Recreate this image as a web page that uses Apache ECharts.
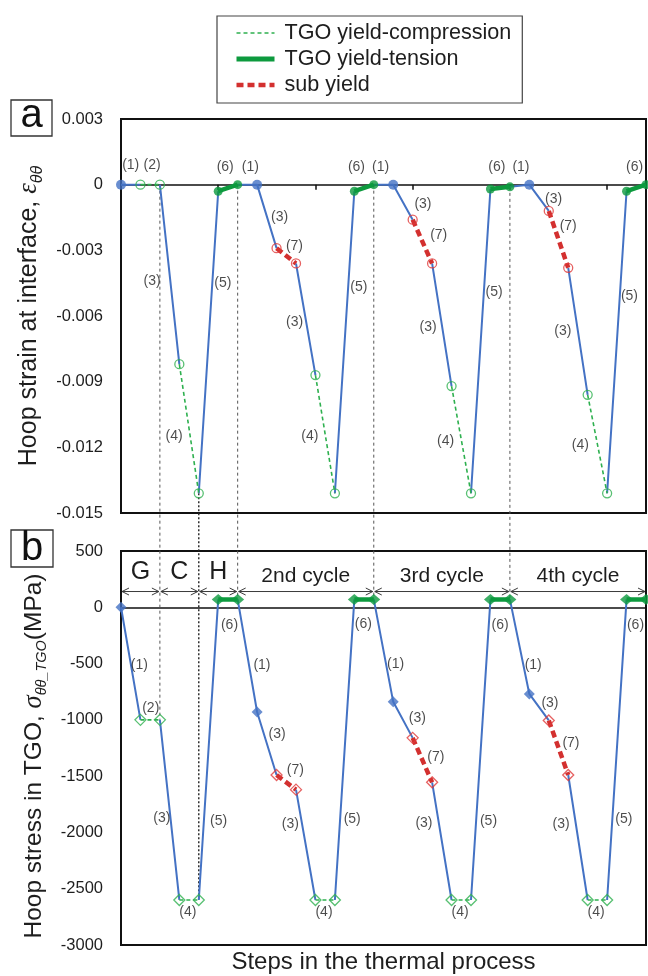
<!DOCTYPE html>
<html>
<head>
<meta charset="utf-8">
<script src="https://cdn.jsdelivr.net/npm/echarts@6/dist/echarts.min.js"></script>
<style>
  html, body { margin: 0; padding: 0; background: #fff; }
  #chart { width: 648px; height: 976px; }
</style>
</head>
<body>
<div id="chart"></div>
<script>
// Step number along the thermal process (G, C, H, then three further cycles)
const steps = [0, 1, 2, 3, 4, 5, 6, 7, 8, 9, 10, 11, 12, 13, 14, 15, 16, 17, 18, 19, 20, 21, 22, 23, 24, 25, 26, 27];

// Hoop strain at the TGO interface for each step
const strain = [0, 0, 0, -0.0082, -0.0141, -0.0003, 0,
                0, -0.0029, -0.0036, -0.0087, -0.0141, -0.0003, 0,
                0, -0.0016, -0.0036, -0.0092, -0.0141, -0.0002, -0.0001,
                0, -0.0012, -0.0038, -0.0096, -0.0141, -0.0003, 0];

// Hoop stress in the TGO (MPa) for each step
const stress = [0, -1000, -1000, -2600, -2600, 70, 70,
                -930, -1490, -1620, -2600, -2600, 70, 70,
                -840, -1160, -1555, -2600, -2600, 70, 70,
                -770, -1005, -1490, -2600, -2600, 70, 70];

// State reached at each step
const pointState = ['start', 'comp', 'comp', 'comp', 'comp', 'tens', 'tens',
                    'start', 'sub', 'sub', 'comp', 'comp', 'tens', 'tens',
                    'start', 'sub', 'sub', 'comp', 'comp', 'tens', 'tens',
                    'start', 'sub', 'sub', 'comp', 'comp', 'tens', 'tens'];

// State of the path from step i to step i+1
const segmentState = ['elastic', 'comp', 'elastic', 'comp', 'elastic', 'tens', 'elastic',
                      'elastic', 'sub', 'elastic', 'comp', 'elastic', 'tens', 'elastic',
                      'elastic', 'sub', 'elastic', 'comp', 'elastic', 'tens', 'elastic',
                      'elastic', 'sub', 'elastic', 'comp', 'elastic', 'tens'];

// Process stages shown above the stress panel
const phaseNames = ['G', 'C', 'H', '2nd cycle', '3rd cycle', '4th cycle'];
const phaseStart = [0, 2, 4, 6, 13, 20];
const phaseEnd = [2, 4, 6, 13, 20, 27];

// Steps joined by a vertical guide across both panels
const guideSteps = [2, 4, 6, 13, 20];

// Sub-step numbers written next to the strain path: [text, step, strain]
const notesA = [
  ['(1)', 0.5, 0.0009], ['(2)', 1.6, 0.0009], ['(3)', 1.6, -0.0044], ['(4)', 2.73, -0.0115],
  ['(5)', 5.24, -0.0045], ['(6)', 5.36, 0.00078], ['(1)', 6.65, 0.00078],
  ['(3)', 8.16, -0.0015], ['(7)', 8.92, -0.0028], ['(3)', 8.93, -0.0063], ['(4)', 9.71, -0.0115],
  ['(5)', 12.23, -0.0047], ['(6)', 12.11, 0.00078], ['(1)', 13.35, 0.00078],
  ['(3)', 15.53, -0.0009], ['(7)', 16.34, -0.0023], ['(3)', 15.79, -0.0065], ['(4)', 16.69, -0.0117],
  ['(5)', 19.19, -0.0049], ['(6)', 19.33, 0.00078], ['(1)', 20.57, 0.00078],
  ['(3)', 22.25, -0.00065], ['(7)', 23.0, -0.0019], ['(3)', 22.72, -0.0067], ['(4)', 23.62, -0.0119],
  ['(5)', 26.15, -0.0051], ['(6)', 26.41, 0.00078]
];

// Sub-step numbers written next to the stress path: [text, step, stress]
const notesB = [
  ['(1)', 0.94, -515], ['(2)', 1.53, -900], ['(3)', 2.1, -1871], ['(4)', 3.44, -2711],
  ['(5)', 5.02, -1898], ['(6)', 5.58, -160],
  ['(1)', 7.25, -515], ['(3)', 8.03, -1128], ['(7)', 8.97, -1448], ['(3)', 8.71, -1930],
  ['(4)', 10.44, -2711], ['(5)', 11.89, -1886], ['(6)', 12.46, -151],
  ['(1)', 14.12, -509], ['(3)', 15.24, -988], ['(7)', 16.19, -1329], ['(3)', 15.58, -1921],
  ['(4)', 17.44, -2706], ['(5)', 18.9, -1898], ['(6)', 19.5, -160],
  ['(1)', 21.2, -515], ['(3)', 22.06, -850], ['(7)', 23.14, -1210], ['(3)', 22.63, -1930],
  ['(4)', 24.43, -2711], ['(5)', 25.86, -1886], ['(6)', 26.46, -160]
];

const FONT = '"Liberation Sans", Arial, Helvetica, sans-serif';
const SERIF = '"Liberation Serif", "DejaVu Serif", serif';
const INK = '#1e1e1e';
const BLUE = '#4472c4';
const GREEN_DASH = '#2eb04f';
const GREEN = '#0d9a3e';
const RED = '#d3302f';
const RED_MARK = '#e0393a';

// Polyline through all segments of one state, broken between runs
function pathData(values, state) {
  const out = [];
  let lastEnd = -1;
  for (let i = 0; i < segmentState.length; i++) {
    if (segmentState[i] !== state) continue;
    if (lastEnd === i) {
      out.push([steps[i + 1], values[i + 1]]);
    } else {
      if (out.length) out.push([steps[i], null]);
      out.push([steps[i], values[i]], [steps[i + 1], values[i + 1]]);
    }
    lastEnd = i + 1;
  }
  return out;
}

function pointsOf(values, state) {
  const out = [];
  for (let i = 0; i < steps.length; i++) {
    if (pointState[i] === state) out.push([steps[i], values[i]]);
  }
  return out;
}

const lineDefs = [
  { state: 'elastic', name: 'elastic path', style: { color: BLUE, width: 2, type: 'solid' } },
  { state: 'comp', name: 'TGO yield-compression', style: { color: GREEN_DASH, width: 1.6, type: [4, 3] } },
  { state: 'tens', name: 'TGO yield-tension', style: { color: GREEN, width: 4.5, type: 'solid' } },
  { state: 'sub', name: 'sub yield', style: { color: RED, width: 4.5, type: [7, 4] } }
];

function pathSeries(values, axisIndex) {
  return lineDefs.map(d => ({
    type: 'line',
    name: d.name,
    xAxisIndex: axisIndex,
    yAxisIndex: axisIndex,
    data: pathData(values, d.state),
    symbol: 'none',
    showSymbol: false,
    connectNulls: false,
    lineStyle: d.style,
    itemStyle: { color: d.style.color },
    z: d.state === 'elastic' ? 2 : 3,
    silent: true
  }));
}

function markerSeries(values, axisIndex, shape) {
  const isDiamond = shape === 'diamond';
  const defs = [
    { state: 'start', size: isDiamond ? 11 : 10, item: { color: BLUE } },
    { state: 'comp', size: isDiamond ? 11 : 9, item: { color: 'rgba(255,255,255,0)', borderColor: GREEN_DASH, borderWidth: 1.3 } },
    { state: 'tens', size: isDiamond ? [13, 11] : 9, item: { color: GREEN } },
    { state: 'sub', size: isDiamond ? 11 : 9, item: { color: 'rgba(255,255,255,0)', borderColor: RED_MARK, borderWidth: 1.3 } }
  ];
  return defs.map(d => ({
    type: 'scatter',
    name: 'marker-' + d.state + '-' + axisIndex,
    xAxisIndex: axisIndex,
    yAxisIndex: axisIndex,
    data: pointsOf(values, d.state),
    symbol: shape,
    symbolSize: d.size,
    itemStyle: d.item,
    z: 5,
    silent: true
  }));
}

function noteSeries(notes, axisIndex) {
  return {
    type: 'scatter',
    name: 'notes-' + axisIndex,
    xAxisIndex: axisIndex,
    yAxisIndex: axisIndex,
    symbolSize: 0,
    silent: true,
    z: 6,
    data: notes.map(n => ({ name: n[0], value: [n[1], n[2]] })),
    label: {
      show: true, position: 'inside', formatter: '{b}',
      fontSize: 14, color: INK, fontFamily: FONT
    }
  };
}

// Stage arrows (double-headed) with their names above them
const phaseSeries = {
  type: 'custom',
  name: 'phases',
  xAxisIndex: 1,
  yAxisIndex: 1,
  silent: true,
  z: 4,
  data: phaseStart.map((s, i) => [s, phaseEnd[i], 140, i]),
  encode: { x: [0, 1], y: 2 },
  renderItem: function (params, api) {
    const idx = api.value(3);
    const a = api.coord([api.value(0), api.value(2)]);
    const b = api.coord([api.value(1), api.value(2)]);
    const w = 7, h = 3.5;
    const stroke = { stroke: '#3a3a3a', lineWidth: 1, fill: null };
    const big = idx < 3;
    return {
      type: 'group',
      children: [
        { type: 'line', shape: { x1: a[0] + 1, y1: a[1], x2: b[0] - 1, y2: b[1] }, style: stroke },
        { type: 'polyline', shape: { points: [[a[0] + 1 + w, a[1] - h], [a[0] + 1, a[1]], [a[0] + 1 + w, a[1] + h]] }, style: stroke },
        { type: 'polyline', shape: { points: [[b[0] - 1 - w, b[1] - h], [b[0] - 1, b[1]], [b[0] - 1 - w, b[1] + h]] }, style: stroke },
        {
          type: 'text',
          style: {
            text: phaseNames[idx],
            x: (a[0] + b[0]) / 2,
            y: a[1] - (big ? 7 : 5),
            align: 'center',
            verticalAlign: 'bottom',
            fontSize: big ? 25 : 21,
            fontFamily: FONT,
            fill: INK
          }
        }
      ]
    };
  }
};

function nameRich(size, subSize) {
  return {
    t: { fontSize: size, fontFamily: FONT, color: INK, lineHeight: 32 },
    e: { fontSize: size + 2, fontFamily: SERIF, fontStyle: 'italic', color: INK, lineHeight: 32 },
    s: { fontSize: subSize, fontFamily: FONT, fontStyle: 'italic', color: INK, lineHeight: 12, verticalAlign: 'bottom' }
  };
}

const chart = echarts.init(document.getElementById('chart'), null, { renderer: 'canvas' });

const option = {
  animation: false,
  backgroundColor: '#fff',
  textStyle: { fontFamily: FONT, color: INK },
  legend: {
    data: [
      { name: 'TGO yield-compression', lineStyle: { width: 1.6, type: [4, 3] } },
      { name: 'TGO yield-tension', lineStyle: { width: 5, type: 'solid' } },
      { name: 'sub yield', lineStyle: { width: 4.5, type: [7, 4] } }
    ],
    orient: 'vertical',
    left: 217,
    top: 16,
    padding: [6, 11, 7, 17],
    itemWidth: 38,
    itemHeight: 14,
    itemGap: 4,
    borderColor: '#444',
    borderWidth: 1.2,
    selectedMode: false,
    itemStyle: { opacity: 0 },
    textStyle: { fontSize: 21.6, color: INK, fontFamily: FONT, padding: [0, 0, 0, 5] }
  },
  grid: [
    { left: 121, right: 2, top: 119, height: 394, show: true, borderColor: '#111', borderWidth: 2, backgroundColor: 'rgba(0,0,0,0)' },
    { left: 121, right: 2, top: 551, height: 394, show: true, borderColor: '#111', borderWidth: 2, backgroundColor: 'rgba(0,0,0,0)' }
  ],
  xAxis: [
    {
      gridIndex: 0, type: 'value', min: 0, max: 27, interval: 5,
      axisLine: { onZero: true, lineStyle: { color: '#111', width: 1.5 } },
      axisTick: { show: true, length: 5, lineStyle: { color: '#111', width: 1.5 } },
      axisLabel: { show: false },
      splitLine: { show: false }
    },
    {
      gridIndex: 1, type: 'value', min: 0, max: 27, interval: 5,
      axisLine: { onZero: true, lineStyle: { color: '#111', width: 1.5 } },
      axisTick: { show: false },
      axisLabel: { show: false },
      splitLine: { show: false }
    }
  ],
  yAxis: [
    {
      gridIndex: 0, type: 'value', min: -0.015, max: 0.003, interval: 0.003,
      axisLine: { show: false }, axisTick: { show: false }, splitLine: { show: false },
      axisLabel: {
        fontSize: 16.5, color: INK, margin: 18, fontFamily: FONT,
        formatter: v => (Math.abs(v) < 1e-9 ? '0' : v.toFixed(3))
      },
      name: '{t|Hoop strain at interface, }{e|ε}{s|θθ}',
      nameLocation: 'middle', nameRotate: 90, nameGap: 66,
      nameTextStyle: { rich: nameRich(25, 16) }
    },
    {
      gridIndex: 1, type: 'value', min: -3000, max: 500, interval: 500,
      axisLine: { show: false }, axisTick: { show: false }, splitLine: { show: false },
      axisLabel: {
        fontSize: 16.5, color: INK, margin: 18, fontFamily: FONT,
        formatter: v => String(Math.round(v))
      },
      name: '{t|Hoop stress in TGO, }{e|σ}{s|θθ_TGO}{t|(MPa)}',
      nameLocation: 'middle', nameRotate: 90, nameGap: 66,
      nameTextStyle: { rich: nameRich(24.5, 14.5), padding: [0, 16, 0, 0] }
    }
  ],
  series: [
    ...pathSeries(strain, 0),
    ...pathSeries(stress, 1),
    ...markerSeries(strain, 0, 'circle'),
    ...markerSeries(stress, 1, 'diamond'),
    noteSeries(notesA, 0),
    noteSeries(notesB, 1),
    phaseSeries
  ]
};

chart.setOption(option);

// Vertical guides joining the same step in both panels, plus panel tags and the step-axis title
const guideLines = guideSteps.map(i => {
  const top = chart.convertToPixel({ gridIndex: 0 }, [steps[i], strain[i]]);
  const bot = chart.convertToPixel({ gridIndex: 1 }, [steps[i], stress[i]]);
  const strong = i === 4;
  return {
    type: 'line',
    silent: true,
    z: 1,
    shape: { x1: top[0], y1: top[1], x2: bot[0], y2: bot[1] },
    style: { stroke: strong ? '#222' : '#555', lineWidth: strong ? 1.4 : 1, lineDash: strong ? [2, 2] : [3, 3] }
  };
});

const left = chart.convertToPixel({ gridIndex: 1 }, [0, -3000]);
const right = chart.convertToPixel({ gridIndex: 1 }, [27, -3000]);

chart.setOption({
  graphic: [
    ...guideLines,
    { type: 'rect', silent: true, shape: { x: 11, y: 100, width: 41, height: 36 }, style: { fill: '#fff', stroke: '#333', lineWidth: 1.3 } },
    { type: 'text', silent: true, style: { text: 'a', x: 31.5, y: 116, align: 'center', verticalAlign: 'middle', fontSize: 40, fontFamily: FONT, fill: '#111' } },
    { type: 'rect', silent: true, shape: { x: 11, y: 530, width: 42, height: 37 }, style: { fill: '#fff', stroke: '#333', lineWidth: 1.3 } },
    { type: 'text', silent: true, style: { text: 'b', x: 32, y: 549, align: 'center', verticalAlign: 'middle', fontSize: 40, fontFamily: FONT, fill: '#111' } },
    { type: 'text', silent: true, style: { text: 'Steps in the thermal process', x: (left[0] + right[0]) / 2, y: 962, align: 'center', verticalAlign: 'middle', fontSize: 24, fontFamily: FONT, fill: INK } }
  ]
});
</script>
</body>
</html>
